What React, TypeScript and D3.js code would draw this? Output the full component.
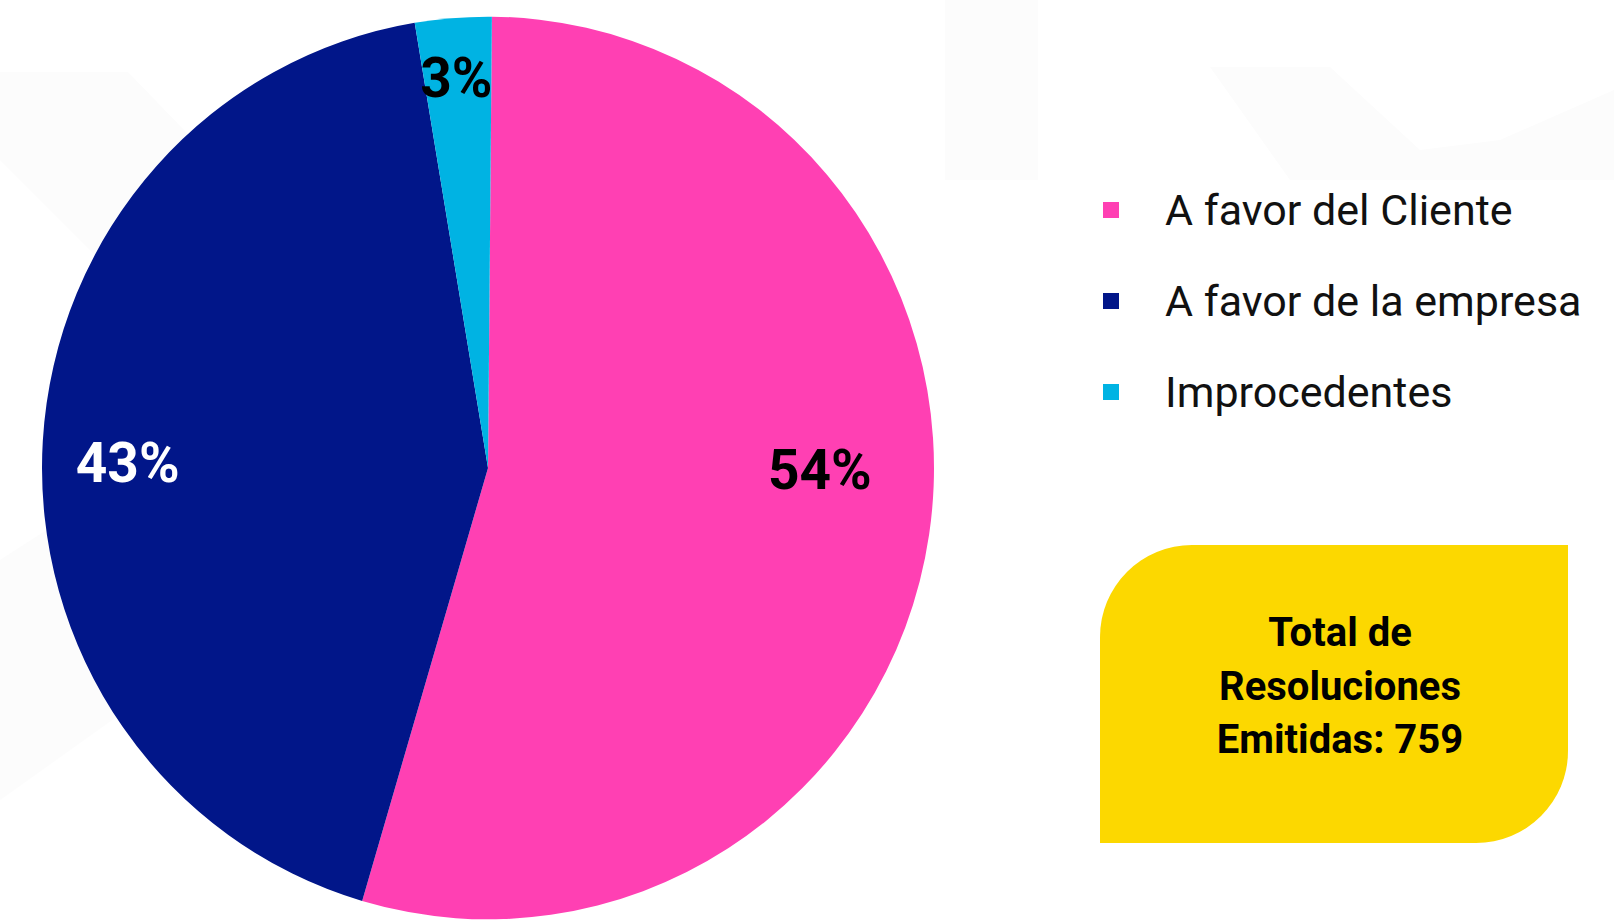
import React from "react";
import * as d3 from "d3";

// Resoluciones emitidas, por resultado
const categories = ["A favor del Cliente", "A favor de la empresa", "Improcedentes"];
const counts = [413, 325, 21];
const sliceColors = ["#FF40B3", "#011689", "#00B3E3"];
const labelColors = ["#000000", "#ffffff", "#000000"];
const boxLines = ["Total de", "Resoluciones", "Emitidas: "];

const W = 1614;
const H = 922;

// Pie geometry (slightly taller than wide, as on the slide)
const cx = 488;
const cy = 468;
const radius = 446;
const yStretch = 1.012;
const rotation = (0.5 * Math.PI) / 180;

// Where each percentage label sits: angle (deg, clockwise from 12 o'clock) and radius fraction
const labelLayout = [
  { angle: 90.3, r: 0.744 },
  { angle: 270.9, r: 0.808 },
  { angle: 355.3, r: 0.868 },
];

// Legend and summary box layout
const legend = { x: 1103, y: 202, step: 91, swatch: 16, textX: 1165 };
const box = { x: 1100, y: 545, w: 468, h: 298, r: 92 };

// Rectangle with rounded top-left and bottom-right corners only
function leafPath(x: number, y: number, w: number, h: number, r: number) {
  const p = d3.path();
  p.moveTo(x + r, y);
  p.lineTo(x + w, y);
  p.lineTo(x + w, y + h - r);
  p.arcTo(x + w, y + h, x + w - r, y + h, r);
  p.lineTo(x, y + h);
  p.lineTo(x, y + r);
  p.arcTo(x, y, x + r, y, r);
  p.closePath();
  return p.toString();
}

export default function App() {
  const total = d3.sum(counts);
  const pie = d3
    .pie<number>()
    .sort(null)
    .value((d) => d)
    .startAngle(rotation)
    .endAngle(2 * Math.PI + rotation);
  const arcs = pie(counts);
  const arcGen = d3.arc<d3.PieArcDatum<number>>().innerRadius(0).outerRadius(radius);
  const pct = (v: number) => `${Math.round((v / total) * 100)}%`;

  const labelFont = "Roboto, 'Open Sans', sans-serif";

  return (
    <svg
      width={W}
      height={H}
      viewBox={`0 0 ${W} ${H}`}
      style={{ position: "absolute", left: 0, top: 0, display: "block", background: "#ffffff" }}
    >
      {/* faint decorative watermark */}
      <g fill="#fcfcfc">
        <polygon points="0,72 128,72 300,250 300,330 170,330 0,160" />
        <polygon points="945,0 1038,0 1038,180 945,180" />
        <polygon points="1210,67 1330,67 1420,150 1500,140 1614,90 1614,180 1290,180" />
        <polygon points="0,560 140,470 140,700 0,800" />
      </g>

      <g transform={`translate(${cx},${cy})`}>
        <g transform={`scale(1,${yStretch})`}>
          {arcs.map((a, i) => (
            <path key={categories[i]} d={arcGen(a) || ""} fill={sliceColors[i]} />
          ))}
        </g>
        {arcs.map((a, i) => {
          const ang = (labelLayout[i].angle * Math.PI) / 180;
          const rr = labelLayout[i].r * radius;
          const x = Math.sin(ang) * rr;
          const y = -Math.cos(ang) * rr * yStretch;
          return (
            <text
              key={"l" + i}
              x={x}
              y={y}
              dy="0.355em"
              textAnchor="middle"
              fontFamily={labelFont}
              fontWeight={700}
              fontSize={55}
              fill={labelColors[i]}
            >
              {pct(a.data)}
            </text>
          );
        })}
      </g>

      <g>
        {categories.map((c, i) => (
          <g key={c} transform={`translate(0,${legend.y + i * legend.step})`}>
            <rect x={legend.x} y={0} width={legend.swatch} height={legend.swatch} fill={sliceColors[i]} />
            <text
              x={legend.textX}
              y={legend.swatch / 2}
              dy="0.355em"
              fontFamily={labelFont}
              fontWeight={400}
              fontSize={43}
              fill="#111111"
            >
              {c}
            </text>
          </g>
        ))}
      </g>

      <g>
        <path d={leafPath(box.x, box.y, box.w, box.h, box.r)} fill="#FCD800" />
        <text
          x={1340}
          textAnchor="middle"
          fontFamily={labelFont}
          fontWeight={700}
          fontSize={40}
          fill="#000000"
        >
          {boxLines.map((line, i) => (
            <tspan key={i} x={1340} y={646 + i * 53.5}>
              {i === boxLines.length - 1 ? `${line}${total}` : line}
            </tspan>
          ))}
        </text>
      </g>
    </svg>
  );
}
